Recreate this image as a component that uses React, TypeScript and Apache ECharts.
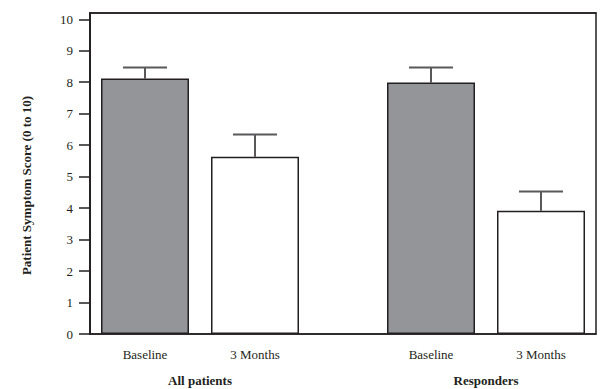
import React, { useEffect, useRef } from "react";
import * as echarts from "echarts";

const groups = ["All patients", "Responders"];
const timepoints = ["Baseline", "3 Months"];
const allPatientsMean = [8.12, 5.63];
const allPatientsError = [0.35, 0.71];
const respondersMean = [7.99, 3.92];
const respondersError = [0.48, 0.61];
const yTicks = [0, 1, 2, 3, 4, 5, 6, 7, 8, 9, 10];

const INK = "#231f20";
const GRAY = "#939598";
const FONT = "'Liberation Serif', 'Times New Roman', serif";

export default function App() {
  const ref = useRef<HTMLDivElement>(null);
  useEffect(() => {
    if (!ref.current) return;
    const chart = echarts.init(ref.current, null, { renderer: "svg" });
    const means = [allPatientsMean, respondersMean];
    const errors = [allPatientsError, respondersError];
    const GROUP_STEP = 2.6;
    const pos = (g: number, i: number) => 0.5 + i + g * GROUP_STEP;

    const barData: any[] = [];
    const errData: any[] = [];
    const labelPositions: number[] = [];
    const labelNames: string[] = [];
    groups.forEach((_, g) => {
      timepoints.forEach((t, i) => {
        const x = pos(g, i);
        barData.push({
          value: [x, means[g][i]],
          itemStyle: { color: i === 0 ? GRAY : "#ffffff", borderColor: INK, borderWidth: 1.5 },
        });
        errData.push([x, means[g][i], means[g][i] + errors[g][i]]);
        labelPositions.push(x);
        labelNames.push(t);
      });
    });
    const groupCenters = groups.map((_, g) => (pos(g, 0) + pos(g, timepoints.length - 1)) / 2);
    const lookup = (vals: number[], names: string[]) => (v: number) => {
      const k = vals.findIndex((p) => Math.abs(p - v) < 1e-6);
      return k >= 0 ? names[k] : "";
    };

    const hiddenX = {
      type: "value",
      min: 0,
      max: 4.6,
      splitLine: { show: false },
      axisTick: { show: false },
    };

    chart.setOption({
      animation: false,
      backgroundColor: "#ffffff",
      textStyle: { fontFamily: FONT },
      grid: {
        left: 90,
        top: 13,
        width: 506,
        height: 321,
        show: true,
        borderColor: INK,
        borderWidth: 1.5,
        backgroundColor: "transparent",
      },
      xAxis: [
        {
          ...hiddenX,
          position: "bottom",
          axisLine: { show: true, onZero: false, lineStyle: { color: INK, width: 1.5 } },
          axisLabel: {
            customValues: labelPositions,
            formatter: lookup(labelPositions, labelNames),
            margin: 14,
            fontFamily: FONT,
            fontSize: 13,
            color: INK,
            showMinLabel: true,
            showMaxLabel: true,
          },
        },
        {
          ...hiddenX,
          position: "bottom",
          axisLine: { show: false },
          axisLabel: {
            customValues: groupCenters,
            formatter: lookup(groupCenters, groups),
            margin: 40,
            fontFamily: FONT,
            fontSize: 13,
            fontWeight: "bold",
            color: INK,
          },
        },
        {
          ...hiddenX,
          position: "top",
          axisLine: { show: true, onZero: false, lineStyle: { color: INK, width: 1.5 } },
          axisLabel: { show: false },
        },
      ],
      yAxis: [
        {
          type: "value",
          min: 0,
          max: 10.2,
          name: "Patient Symptom Score (0 to 10)",
          nameLocation: "middle",
          nameGap: 57,
          nameTextStyle: {
            fontFamily: FONT,
            fontSize: 13,
            fontWeight: "bold",
            color: INK,
            padding: [0, 24, 0, 0],
          },
          splitLine: { show: false },
          axisLine: { show: true, lineStyle: { color: INK, width: 1.5 } },
          axisTick: { show: true, customValues: yTicks, length: 11, inside: false, lineStyle: { color: INK, width: 1.5 } },
          axisLabel: {
            customValues: yTicks,
            margin: 17,
            fontFamily: FONT,
            fontSize: 13,
            color: INK,
          },
        },
        {
          type: "value",
          min: 0,
          max: 10.2,
          position: "right",
          splitLine: { show: false },
          axisTick: { show: false },
          axisLabel: { show: false },
          axisLine: { show: true, lineStyle: { color: INK, width: 1.5 } },
        },
      ],
      series: [
        {
          type: "bar",
          xAxisIndex: 0,
          yAxisIndex: 0,
          barWidth: 88,
          data: barData,
        },
        {
          type: "custom",
          xAxisIndex: 0,
          yAxisIndex: 0,
          z: 3,
          data: errData,
          renderItem: (_params: any, api: any) => {
            const x = api.value(0);
            const lo = api.coord([x, api.value(1)]);
            const hi = api.coord([x, api.value(2)]);
            const half = 22;
            return {
              type: "group",
              children: [
                {
                  type: "line",
                  shape: { x1: lo[0], y1: lo[1], x2: hi[0], y2: hi[1] },
                  style: { stroke: INK, lineWidth: 1.5 },
                },
                {
                  type: "line",
                  shape: { x1: hi[0] - half, y1: hi[1], x2: hi[0] + half, y2: hi[1] },
                  style: { stroke: "#58595b", lineWidth: 2 },
                },
              ],
            };
          },
        },
      ],
    });
    return () => chart.dispose();
  }, []);
  return <div ref={ref} style={{ width: 610, height: 389, position: "absolute", left: 0, top: 0 }} />;
}
